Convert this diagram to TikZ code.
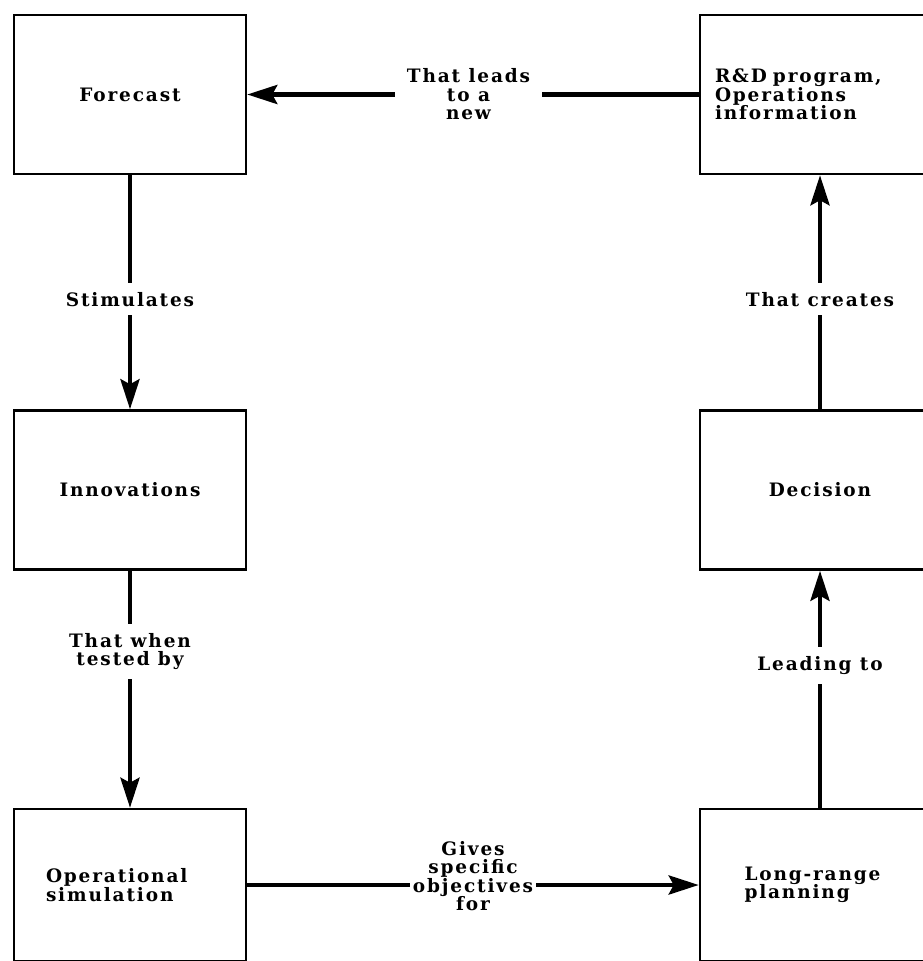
\documentclass[tikz,border=0pt]{standalone}
\usepackage{fontspec}
\setmainfont{DejaVu Serif}[LetterSpace=10]
\usetikzlibrary{arrows.meta}
\tikzset{
    font=\bfseries\fontsize{18.5}{18.5}\selectfont,
    every node/.style={
        align=center,
        fill=white,         % labels blank out the line behind them
    },
    block/.style={          % the six boxes
        draw,
        line width=2.5pt,
        minimum width=232pt,
        minimum height=159pt
    },
    tag/.style={            % label sitting on a connector
        inner xsep=3pt,
        inner ysep=9pt
    },
    every edge/.style={     % default style for all connectors
        draw,
        line width=4.5pt,
        -{Stealth[length=30pt, width=19pt, inset=5pt]}
    }
}

\begin{document}
\begin{tikzpicture}[x=1pt, y=-1pt]
    \useasboundingbox (0,0) rectangle (923,961);
    \clip (0,0) rectangle (923,961);
    \node[block] (fc) at (130,94.5) {Forecast};
    \node[block, minimum width=240pt, text width=210pt, align=left] (rd) at (820,94.5) {R\&D program,\\Operations\\information};
    \node[block] (in) at (130,490) {Innovations};
    \node[block, minimum width=240pt] (dc) at (820,490) {Decision};
    \node[block, minimum height=152pt, text width=168pt, align=left] (op) at (130,885) {Operational\\simulation};
    \node[block, minimum width=240pt, minimum height=152pt, text width=151pt, align=left] (lr) at (820,885) {Long-range\\planning};
    \draw (fc) edge node[tag, pos=0.53] (t1) {Stimulates} (in);
    \draw (in) edge node[tag, pos=0.34] (t2) {That when\\tested by} (op);
    \draw (op) edge node[tag, yshift=9pt] (t3) {Gives\\specific\\objectives\\for} (lr);
    \draw (lr) edge node[tag, pos=0.6] (t4) {Leading to} (dc);
    \draw (dc) edge node[tag, pos=0.47] (t5) {That creates} (rd);
    \draw (rd) edge node[tag, inner xsep=12pt, pos=0.51] (t6) {That leads\\to a\\new} (fc);
\end{tikzpicture}
\end{document}
